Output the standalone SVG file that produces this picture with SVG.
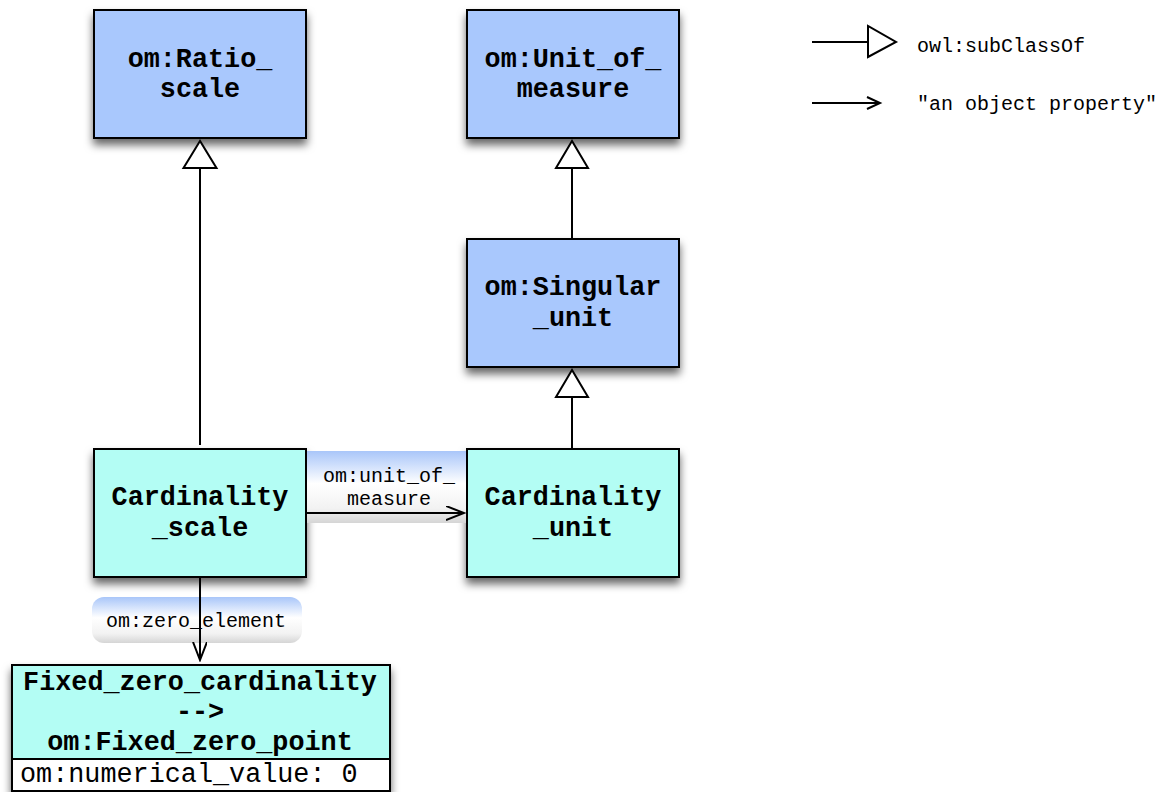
<svg xmlns="http://www.w3.org/2000/svg" width="1159" height="792" viewBox="0 0 1159 792">
<style>
.blue{fill:#a9c8fd;stroke:#000;stroke-width:2}
.cyan{fill:#b3fdf4;stroke:#000;stroke-width:2}
.t{font-family:"Liberation Mono","Courier New",monospace;font-weight:bold;font-size:26.8px;text-anchor:middle;fill:#000}
.s{font-family:"Liberation Mono","Courier New",monospace;font-size:20px;fill:#000}
.ln{stroke:#000;stroke-width:2;fill:none}
.tri{fill:#fff;stroke:#000;stroke-width:2}
</style>
<defs>
<filter id="sh" x="-20%" y="-20%" width="140%" height="150%">
<feDropShadow dx="0" dy="6" stdDeviation="4.5" flood-color="#000" flood-opacity="0.6"/>
</filter>
<linearGradient id="lg" x1="0" y1="0" x2="0" y2="1">
<stop offset="0" stop-color="#a9c6f9"/>
<stop offset="0.45" stop-color="#ffffff"/>
<stop offset="0.8" stop-color="#f2f2f2"/>
<stop offset="1" stop-color="#d5d5d5"/>
</linearGradient>
<marker id="open" markerWidth="20" markerHeight="20" refX="18" refY="7" orient="auto" markerUnits="userSpaceOnUse">
<path d="M0,0 L18,7 L0,14" fill="none" stroke="#000" stroke-width="2"/>
</marker>
</defs>

<g id="node-ratio-scale">
<rect class="blue" x="94" y="10" width="212" height="128" filter="url(#sh)"/>
<text class="t" x="200" y="67">om:Ratio_</text>
<text class="t" x="200" y="97">scale</text>
</g>
<g id="node-unit-of-measure">
<rect class="blue" x="467" y="10" width="212" height="128" filter="url(#sh)"/>
<text class="t" x="573" y="67">om:Unit_of_</text>
<text class="t" x="573" y="97">measure</text>
</g>
<g id="node-singular-unit">
<rect class="blue" x="467" y="239" width="212" height="128" filter="url(#sh)"/>
<text class="t" x="573" y="295">om:Singular</text>
<text class="t" x="573" y="326">_unit</text>
</g>
<g id="node-cardinality-scale">
<rect class="cyan" x="94" y="449" width="212" height="128" filter="url(#sh)"/>
<text class="t" x="200" y="505">Cardinality</text>
<text class="t" x="200" y="536">_scale</text>
</g>
<g id="node-cardinality-unit">
<rect class="cyan" x="467" y="449" width="212" height="128" filter="url(#sh)"/>
<text class="t" x="573" y="505">Cardinality</text>
<text class="t" x="573" y="536">_unit</text>
</g>
<g id="node-fixed-zero">
<rect class="cyan" x="12" y="665" width="378" height="126" filter="url(#sh)"/>
<rect x="12" y="759" width="378" height="32" fill="#fff" stroke="#000" stroke-width="2"/>
<text class="t" x="200" y="690">Fixed_zero_cardinality</text>
<text class="t" x="200" y="720">--&gt;</text>
<text class="t" x="200" y="750">om:Fixed_zero_point</text>
<text class="t" x="20" y="782" style="font-weight:normal;text-anchor:start">om:numerical_value: 0</text>
</g>

<g id="labels">
<rect x="307" y="451" width="159" height="72" fill="url(#lg)"/>
<text class="s" x="389" y="482" text-anchor="middle">om:unit_of_</text>
<text class="s" x="389" y="505" text-anchor="middle">measure</text>
<rect x="92" y="597" width="210" height="46" rx="12" ry="12" fill="url(#lg)"/>
<text class="s" x="196" y="627" text-anchor="middle">om:zero_element</text>
</g>

<g id="connectors">
<line class="ln" x1="200" y1="445" x2="200" y2="168"/>
<polygon class="tri" points="200,141 183.5,168 216.5,168"/>
<line class="ln" x1="572" y1="238" x2="572" y2="168"/>
<polygon class="tri" points="572,141 556,168 588,168"/>
<line class="ln" x1="572" y1="449" x2="572" y2="397"/>
<polygon class="tri" points="572,370 556,397 588,397"/>
<line class="ln" x1="306" y1="513" x2="464" y2="513" marker-end="url(#open)"/>
<line class="ln" x1="200" y1="577" x2="200" y2="660" marker-end="url(#open)"/>
</g>

<g id="legend">
<line class="ln" x1="812" y1="42" x2="868" y2="42"/>
<polygon class="tri" points="868,26 868,57 896,42"/>
<text class="s" x="917" y="52">owl:subClassOf</text>
<line class="ln" x1="812" y1="103" x2="880" y2="103"/>
<path class="ln" d="M867,97 L880,103 L867,109"/>
<text class="s" x="917" y="110">"an object property"</text>
</g>
</svg>
